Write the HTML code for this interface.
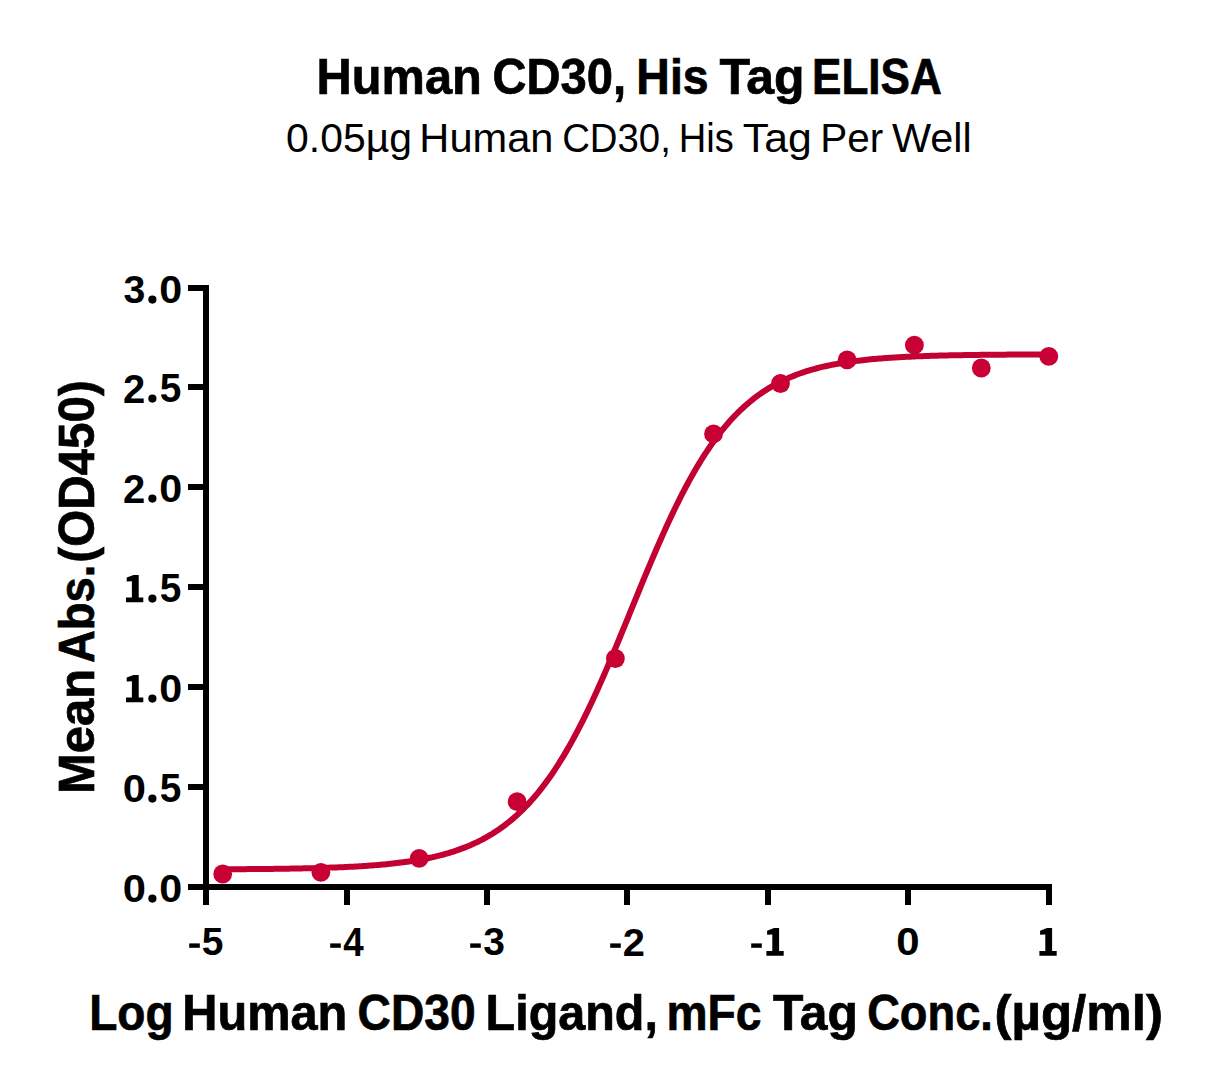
<!DOCTYPE html>
<html><head><meta charset="utf-8"><style>html,body{margin:0;padding:0;background:#fff;}svg{display:block}</style></head>
<body><svg width="1208" height="1086" viewBox="0 0 1208 1086">
<rect width="1208" height="1086" fill="#fff"/>
<g fill="#000" font-family="'Liberation Sans', sans-serif">
<text transform="translate(316.59,93.70) scale(0.9871,1)" font-weight="bold" font-size="49.41" stroke="#000" stroke-width="0.7">Human</text>
<text transform="translate(492.51,93.70) scale(0.9541,1)" font-weight="bold" font-size="49.41" stroke="#000" stroke-width="0.7">CD30,</text>
<text transform="translate(636.35,93.70) scale(0.9402,1)" font-weight="bold" font-size="49.41" stroke="#000" stroke-width="0.7">His</text>
<text transform="translate(719.40,93.70) scale(1.0119,1)" font-weight="bold" font-size="49.41" stroke="#000" stroke-width="0.7">Tag</text>
<text transform="translate(812.01,93.70) scale(0.8922,1)" font-weight="bold" font-size="49.41" stroke="#000" stroke-width="0.7">ELISA</text>
<text transform="translate(286.06,151.50) scale(1.0007,1)" font-weight="normal" font-size="40.88">0.05µg</text>
<text transform="translate(419.37,151.50) scale(1.0173,1)" font-weight="normal" font-size="40.88">Human</text>
<text transform="translate(562.18,151.50) scale(0.9376,1)" font-weight="normal" font-size="40.88">CD30,</text>
<text transform="translate(678.75,151.50) scale(0.9324,1)" font-weight="normal" font-size="40.88">His</text>
<text transform="translate(742.84,151.50) scale(1.0472,1)" font-weight="normal" font-size="40.88">Tag</text>
<text transform="translate(820.16,151.50) scale(0.9901,1)" font-weight="normal" font-size="40.88">Per</text>
<text transform="translate(891.89,151.50) scale(1.0141,1)" font-weight="normal" font-size="40.88">Well</text>
<text transform="translate(89.18,1030.00) scale(0.9377,1)" font-weight="bold" font-size="49.12" stroke="#000" stroke-width="0.7">Log</text>
<text transform="translate(182.19,1030.00) scale(0.9924,1)" font-weight="bold" font-size="49.12" stroke="#000" stroke-width="0.7">Human</text>
<text transform="translate(357.55,1030.00) scale(0.9397,1)" font-weight="bold" font-size="49.12" stroke="#000" stroke-width="0.7">CD30</text>
<text transform="translate(485.61,1030.00) scale(0.9870,1)" font-weight="bold" font-size="49.12" stroke="#000" stroke-width="0.7">Ligand,</text>
<text transform="translate(666.46,1030.00) scale(0.9411,1)" font-weight="bold" font-size="49.12" stroke="#000" stroke-width="0.7">mFc</text>
<text transform="translate(773.00,1030.00) scale(1.0142,1)" font-weight="bold" font-size="49.12" stroke="#000" stroke-width="0.7">Tag</text>
<text transform="translate(867.19,1030.00) scale(0.9211,1)" font-weight="bold" font-size="49.12" stroke="#000" stroke-width="0.7">Conc.</text>
<text transform="translate(994.45,1030.00) scale(1.0402,1)" font-weight="bold" font-size="49.12" stroke="#000" stroke-width="0.7">(µg/ml)</text>
<text transform="translate(94.3,793.93) rotate(-90) scale(0.9969,1)" font-weight="bold" font-size="49.12" stroke="#000" stroke-width="0.7">Mean</text>
<text transform="translate(94.3,663.06) rotate(-90) scale(0.9255,1)" font-weight="bold" font-size="49.12" stroke="#000" stroke-width="0.7">Abs.</text>
<text transform="translate(94.3,562.68) rotate(-90) scale(0.9695,1)" font-weight="bold" font-size="49.12" stroke="#000" stroke-width="0.7">(OD450)</text>
<text transform="translate(123.52,303.21) scale(0.9800,0.9824)" font-weight="bold" font-size="40.0">3</text>
<circle cx="152.4" cy="299.60" r="4.1"/>
<text transform="translate(159.25,303.21) scale(1.0319,0.9824)" font-weight="bold" font-size="40.0">0</text>
<text transform="translate(123.10,402.60) scale(1.0000,0.9964)" font-weight="bold" font-size="40.0">2</text>
<circle cx="152.4" cy="398.60" r="4.1"/>
<text transform="translate(159.74,402.20) scale(0.9700,0.9964)" font-weight="bold" font-size="40.0">5</text>
<text transform="translate(123.10,502.60) scale(1.0000,0.9964)" font-weight="bold" font-size="40.0">2</text>
<circle cx="152.4" cy="498.60" r="4.1"/>
<text transform="translate(159.25,502.21) scale(1.0319,0.9824)" font-weight="bold" font-size="40.0">0</text>
<path transform="translate(126.00,602.30) scale(1.0000,0.9928)" d="M0,0H17.3V-4.8H12.7V-27.6H7.6L0.7,-24.9V-21.0L5.9,-21.2V-4.8H0Z"/>
<circle cx="152.4" cy="598.60" r="4.1"/>
<text transform="translate(159.74,602.20) scale(0.9700,0.9964)" font-weight="bold" font-size="40.0">5</text>
<path transform="translate(126.00,702.30) scale(1.0000,0.9928)" d="M0,0H17.3V-4.8H12.7V-27.6H7.6L0.7,-24.9V-21.0L5.9,-21.2V-4.8H0Z"/>
<circle cx="152.4" cy="698.60" r="4.1"/>
<text transform="translate(159.25,702.21) scale(1.0319,0.9824)" font-weight="bold" font-size="40.0">0</text>
<text transform="translate(122.63,802.21) scale(1.0426,0.9824)" font-weight="bold" font-size="40.0">0</text>
<circle cx="152.4" cy="798.60" r="4.1"/>
<text transform="translate(159.74,802.20) scale(0.9700,0.9964)" font-weight="bold" font-size="40.0">5</text>
<text transform="translate(122.63,902.21) scale(1.0426,0.9824)" font-weight="bold" font-size="40.0">0</text>
<circle cx="152.4" cy="898.60" r="4.1"/>
<text transform="translate(159.25,902.21) scale(1.0319,0.9824)" font-weight="bold" font-size="40.0">0</text>
<rect x="189.20" y="943.4" width="10.6" height="4.4"/>
<text transform="translate(201.83,955.31) scale(0.9750,0.9857)" font-weight="bold" font-size="40.0">5</text>
<rect x="330.20" y="943.4" width="10.6" height="4.4"/>
<text transform="translate(343.26,955.70) scale(0.9198,1.0000)" font-weight="bold" font-size="40.0">4</text>
<rect x="470.20" y="943.4" width="10.6" height="4.4"/>
<text transform="translate(483.22,955.31) scale(0.9750,0.9718)" font-weight="bold" font-size="40.0">3</text>
<rect x="610.20" y="943.4" width="10.6" height="4.4"/>
<text transform="translate(622.81,955.70) scale(0.9949,0.9857)" font-weight="bold" font-size="40.0">2</text>
<rect x="751.20" y="943.4" width="10.6" height="4.4"/>
<path transform="translate(766.40,955.70) scale(1.0000,1.0000)" d="M0,0H17.3V-4.8H12.7V-27.6H7.6L0.7,-24.9V-21.0L5.9,-21.2V-4.8H0Z"/>
<text transform="translate(896.22,955.31) scale(1.0479,0.9718)" font-weight="bold" font-size="40.0">0</text>
<path transform="translate(1039.40,955.70) scale(1.0000,1.0000)" d="M0,0H17.3V-4.8H12.7V-27.6H7.6L0.7,-24.9V-21.0L5.9,-21.2V-4.8H0Z"/>
</g>
<g fill="#000"><rect x="203" y="285" width="6" height="605"/><rect x="188" y="884" width="864" height="6"/><rect x="188" y="285" width="18" height="6"/><rect x="188" y="384" width="18" height="6"/><rect x="188" y="484" width="18" height="6"/><rect x="188" y="584" width="18" height="6"/><rect x="188" y="684" width="18" height="6"/><rect x="188" y="784" width="18" height="6"/><rect x="203" y="884" width="6" height="21"/><rect x="344" y="884" width="6" height="21"/><rect x="484" y="884" width="6" height="21"/><rect x="624" y="884" width="6" height="21"/><rect x="765" y="884" width="6" height="21"/><rect x="905" y="884" width="6" height="21"/><rect x="1046" y="884" width="6" height="21"/></g>
<polyline points="222.80,869.27 224.87,869.26 226.94,869.25 229.01,869.24 231.08,869.23 233.15,869.22 235.22,869.20 237.29,869.19 239.36,869.18 241.43,869.16 243.50,869.15 245.57,869.13 247.64,869.12 249.71,869.10 251.79,869.09 253.86,869.07 255.93,869.05 258.00,869.03 260.07,869.01 262.14,868.99 264.21,868.97 266.28,868.95 268.35,868.93 270.42,868.90 272.49,868.88 274.56,868.85 276.63,868.83 278.70,868.80 280.78,868.77 282.85,868.74 284.92,868.71 286.99,868.68 289.06,868.64 291.13,868.61 293.20,868.57 295.27,868.54 297.34,868.50 299.41,868.46 301.48,868.41 303.55,868.37 305.62,868.33 307.69,868.28 309.76,868.23 311.84,868.18 313.91,868.13 315.98,868.07 318.05,868.02 320.12,867.96 322.19,867.89 324.26,867.83 326.33,867.76 328.40,867.70 330.47,867.62 332.54,867.55 334.61,867.47 336.68,867.39 338.75,867.31 340.83,867.22 342.90,867.13 344.97,867.04 347.04,866.94 349.11,866.84 351.18,866.74 353.25,866.63 355.32,866.52 357.39,866.40 359.46,866.28 361.53,866.15 363.60,866.02 365.67,865.89 367.74,865.75 369.81,865.60 371.89,865.45 373.96,865.29 376.03,865.12 378.10,864.95 380.17,864.78 382.24,864.59 384.31,864.40 386.38,864.20 388.45,864.00 390.52,863.78 392.59,863.56 394.66,863.33 396.73,863.09 398.80,862.84 400.87,862.58 402.95,862.32 405.02,862.04 407.09,861.75 409.16,861.45 411.23,861.14 413.30,860.82 415.37,860.48 417.44,860.13 419.51,859.77 421.58,859.40 423.65,859.01 425.72,858.61 427.79,858.19 429.86,857.76 431.94,857.31 434.01,856.84 436.08,856.35 438.15,855.85 440.22,855.33 442.29,854.79 444.36,854.23 446.43,853.65 448.50,853.05 450.57,852.42 452.64,851.78 454.71,851.11 456.78,850.41 458.85,849.69 460.92,848.94 463.00,848.17 465.07,847.37 467.14,846.54 469.21,845.67 471.28,844.78 473.35,843.86 475.42,842.90 477.49,841.92 479.56,840.89 481.63,839.83 483.70,838.73 485.77,837.60 487.84,836.42 489.91,835.21 491.99,833.95 494.06,832.66 496.13,831.31 498.20,829.92 500.27,828.49 502.34,827.01 504.41,825.48 506.48,823.90 508.55,822.26 510.62,820.58 512.69,818.84 514.76,817.05 516.83,815.19 518.90,813.29 520.97,811.32 523.05,809.29 525.12,807.20 527.19,805.05 529.26,802.83 531.33,800.55 533.40,798.20 535.47,795.79 537.54,793.30 539.61,790.75 541.68,788.12 543.75,785.43 545.82,782.66 547.89,779.82 549.96,776.91 552.04,773.92 554.11,770.86 556.18,767.72 558.25,764.50 560.32,761.21 562.39,757.84 564.46,754.40 566.53,750.88 568.60,747.29 570.67,743.62 572.74,739.87 574.81,736.05 576.88,732.16 578.95,728.19 581.02,724.15 583.10,720.04 585.17,715.86 587.24,711.62 589.31,707.30 591.38,702.93 593.45,698.49 595.52,693.99 597.59,689.43 599.66,684.82 601.73,680.15 603.80,675.43 605.87,670.67 607.94,665.86 610.01,661.01 612.09,656.12 614.16,651.20 616.23,646.24 618.30,641.26 620.37,636.25 622.44,631.23 624.51,626.18 626.58,621.13 628.65,616.06 630.72,610.99 632.79,605.92 634.86,600.86 636.93,595.80 639.00,590.75 641.07,585.71 643.15,580.70 645.22,575.70 647.29,570.74 649.36,565.80 651.43,560.89 653.50,556.03 655.57,551.20 657.64,546.42 659.71,541.68 661.78,536.99 663.85,532.36 665.92,527.78 667.99,523.26 670.06,518.79 672.13,514.39 674.21,510.06 676.28,505.79 678.35,501.59 680.42,497.46 682.49,493.40 684.56,489.41 686.63,485.49 688.70,481.65 690.77,477.89 692.84,474.20 694.91,470.59 696.98,467.06 699.05,463.60 701.12,460.22 703.20,456.92 705.27,453.70 707.34,450.55 709.41,447.48 711.48,444.49 713.55,441.57 715.62,438.73 717.69,435.96 719.76,433.26 721.83,430.64 723.90,428.09 725.97,425.61 728.04,423.20 730.11,420.86 732.18,418.59 734.26,416.39 736.33,414.25 738.40,412.17 740.47,410.16 742.54,408.21 744.61,406.31 746.68,404.48 748.75,402.71 750.82,400.99 752.89,399.32 754.96,397.71 757.03,396.16 759.10,394.65 761.17,393.19 763.25,391.78 765.32,390.42 767.39,389.11 769.46,387.83 771.53,386.61 773.60,385.42 775.67,384.27 777.74,383.17 779.81,382.10 781.88,381.07 783.95,380.07 786.02,379.11 788.09,378.19 790.16,377.30 792.23,376.43 794.31,375.60 796.38,374.80 798.45,374.03 800.52,373.29 802.59,372.57 804.66,371.88 806.73,371.21 808.80,370.57 810.87,369.95 812.94,369.36 815.01,368.79 817.08,368.23 819.15,367.70 821.22,367.19 823.30,366.70 825.37,366.22 827.44,365.76 829.51,365.32 831.58,364.90 833.65,364.49 835.72,364.10 837.79,363.72 839.86,363.36 841.93,363.01 844.00,362.67 846.07,362.35 848.14,362.04 850.21,361.74 852.28,361.45 854.36,361.17 856.43,360.90 858.50,360.65 860.57,360.40 862.64,360.16 864.71,359.93 866.78,359.71 868.85,359.50 870.92,359.30 872.99,359.10 875.06,358.92 877.13,358.74 879.20,358.56 881.27,358.39 883.35,358.23 885.42,358.08 887.49,357.93 889.56,357.79 891.63,357.65 893.70,357.52 895.77,357.39 897.84,357.27 899.91,357.15 901.98,357.04 904.05,356.93 906.12,356.83 908.19,356.73 910.26,356.63 912.33,356.54 914.41,356.45 916.48,356.36 918.55,356.28 920.62,356.20 922.69,356.13 924.76,356.05 926.83,355.98 928.90,355.92 930.97,355.85 933.04,355.79 935.11,355.73 937.18,355.67 939.25,355.62 941.32,355.56 943.39,355.51 945.47,355.46 947.54,355.41 949.61,355.37 951.68,355.33 953.75,355.28 955.82,355.24 957.89,355.20 959.96,355.17 962.03,355.13 964.10,355.10 966.17,355.06 968.24,355.03 970.31,355.00 972.38,354.97 974.46,354.94 976.53,354.92 978.60,354.89 980.67,354.87 982.74,354.84 984.81,354.82 986.88,354.80 988.95,354.78 991.02,354.75 993.09,354.74 995.16,354.72 997.23,354.70 999.30,354.68 1001.37,354.66 1003.44,354.65 1005.52,354.63 1007.59,354.62 1009.66,354.60 1011.73,354.59 1013.80,354.58 1015.87,354.56 1017.94,354.55 1020.01,354.54 1022.08,354.53 1024.15,354.52 1026.22,354.51 1028.29,354.50 1030.36,354.49 1032.43,354.48 1034.51,354.47 1036.58,354.46 1038.65,354.45 1040.72,354.44 1042.79,354.44 1044.86,354.43 1046.93,354.42 1049.00,354.42" fill="none" stroke="#c20032" stroke-width="6" stroke-linejoin="round"/>
<g fill="#c80034"><circle cx="222.7" cy="874" r="9.4"/><circle cx="320.9" cy="872.3" r="9.4"/><circle cx="419.2" cy="858.3" r="9.4"/><circle cx="517.1" cy="801.7" r="9.4"/><circle cx="615.4" cy="658.5" r="9.4"/><circle cx="713.5" cy="433.9" r="9.4"/><circle cx="780.5" cy="383.5" r="9.4"/><circle cx="847.1" cy="359.9" r="9.4"/><circle cx="914.4" cy="345.2" r="9.4"/><circle cx="981.3" cy="368" r="9.4"/><circle cx="1048.8" cy="356.4" r="9.4"/></g>
</svg></body></html>
